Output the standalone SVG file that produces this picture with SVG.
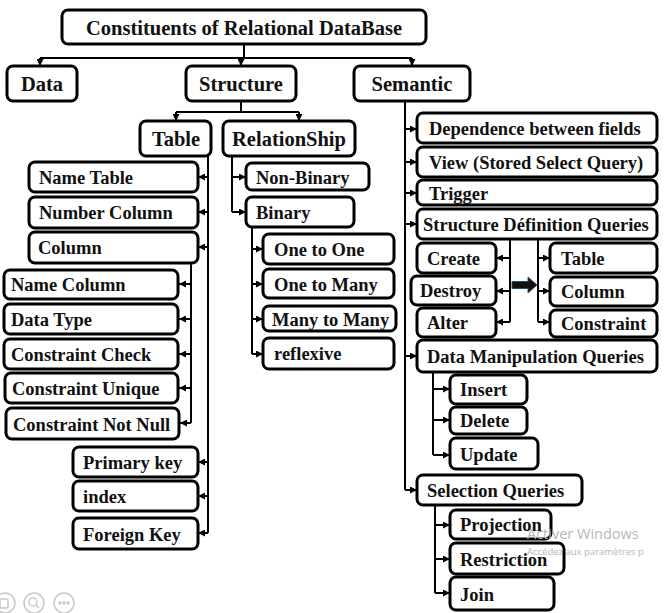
<svg xmlns="http://www.w3.org/2000/svg" width="665" height="613" viewBox="0 0 665 613">
  <style>
    .box { fill: #ffffff; stroke: #000000; stroke-width: 3; }
    .lbl { font-family: "Liberation Serif", "Times New Roman", serif; font-weight: bold; font-size: 18.5px; fill: #111111; }
    .ttl { font-size: 20.5px; }
    .big { font-size: 20.5px; }
    .wire { fill: none; stroke: #000000; stroke-width: 2; }
    .wm { font-family: "Segoe UI", "Open Sans", "Liberation Sans", sans-serif; fill: #b8b8b8; }
    .ico { fill: none; stroke: #c8c8c8; stroke-width: 1.5; }
  </style>
  <defs>
    <marker id="tip" viewBox="0 0 8 8" refX="8" refY="4" markerWidth="7" markerHeight="7" markerUnits="userSpaceOnUse" orient="auto">
      <path d="M0,0 L8,4 L0,8 Z" fill="#000000"/>
    </marker>
  </defs>

  <rect width="665" height="613" fill="#ffffff"/>

  <!-- connectors -->
  <g id="connectors" class="wire">
    <!-- root to level 1 -->
    <path d="M244,44 V58 M40,58 H412"/>
    <path d="M40,58 V66" marker-end="url(#tip)"/>
    <path d="M241,58 V66" marker-end="url(#tip)"/>
    <path d="M412,58 V66" marker-end="url(#tip)"/>
    <!-- structure -->
    <path d="M241,101 V112 M176,112 H299"/>
    <path d="M176,112 V121" marker-end="url(#tip)"/>
    <path d="M299,112 V121" marker-end="url(#tip)"/>
    <!-- table -->
    <path d="M208,156 V533"/>
    <path d="M208,177 H198" marker-end="url(#tip)"/>
    <path d="M208,212 H198" marker-end="url(#tip)"/>
    <path d="M208,247 H198" marker-end="url(#tip)"/>
    <path d="M208,462 H198" marker-end="url(#tip)"/>
    <path d="M208,496 H198" marker-end="url(#tip)"/>
    <path d="M208,533 H198" marker-end="url(#tip)"/>
    <!-- column -->
    <path d="M191,263 V423"/>
    <path d="M191,284 H179" marker-end="url(#tip)"/>
    <path d="M191,319 H179" marker-end="url(#tip)"/>
    <path d="M191,354 H179" marker-end="url(#tip)"/>
    <path d="M191,388 H179" marker-end="url(#tip)"/>
    <path d="M191,423 H180" marker-end="url(#tip)"/>
    <!-- relationship -->
    <path d="M232,156 V212"/>
    <path d="M232,177 H246" marker-end="url(#tip)"/>
    <path d="M232,212 H246" marker-end="url(#tip)"/>
    <!-- binary -->
    <path d="M252,227 V354"/>
    <path d="M252,249 H263" marker-end="url(#tip)"/>
    <path d="M252,284 H263" marker-end="url(#tip)"/>
    <path d="M252,319 H263" marker-end="url(#tip)"/>
    <path d="M252,354 H263" marker-end="url(#tip)"/>
    <!-- semantic -->
    <path d="M405,101 V490"/>
    <path d="M405,129 H417" marker-end="url(#tip)"/>
    <path d="M405,162 H417" marker-end="url(#tip)"/>
    <path d="M405,193 H417" marker-end="url(#tip)"/>
    <path d="M405,224 H417" marker-end="url(#tip)"/>
    <path d="M405,356 H417" marker-end="url(#tip)"/>
    <path d="M405,490 H417" marker-end="url(#tip)"/>
    <!-- structure definition queries -->
    <path d="M510,239 V322"/>
    <path d="M510,258 H496" marker-end="url(#tip)"/>
    <path d="M510,291 H496" marker-end="url(#tip)"/>
    <path d="M510,322 H496" marker-end="url(#tip)"/>
    <path d="M538,239 V322"/>
    <path d="M538,258 H550" marker-end="url(#tip)"/>
    <path d="M538,291 H550" marker-end="url(#tip)"/>
    <path d="M538,322 H550" marker-end="url(#tip)"/>
    <path d="M512,281.5 H528 V277 L537,285 L528,293 V288.5 H512 Z" fill="#111111" stroke="#2a4a7a" stroke-width="1"/>
    <!-- data manipulation queries -->
    <path d="M433,372 V455"/>
    <path d="M433,389 H450" marker-end="url(#tip)"/>
    <path d="M433,420 H450" marker-end="url(#tip)"/>
    <path d="M433,455 H450" marker-end="url(#tip)"/>
    <!-- selection queries -->
    <path d="M435,505 V593"/>
    <path d="M435,525 H450" marker-end="url(#tip)"/>
    <path d="M435,559 H450" marker-end="url(#tip)"/>
    <path d="M435,593 H450" marker-end="url(#tip)"/>
  </g>

  <!-- nodes -->
  <g id="root"><rect class="box" x="62" y="10" width="364" height="34" rx="6"/><text class="lbl ttl" x="244" y="34.5" text-anchor="middle">Constituents of Relational DataBase</text></g>
  <g id="data"><rect class="box" x="7" y="66" width="70" height="35" rx="6"/><text class="lbl big" x="42" y="91" text-anchor="middle">Data</text></g>
  <g id="structure"><rect class="box" x="186" y="66" width="110" height="35" rx="6"/><text class="lbl big" x="241" y="91" text-anchor="middle">Structure</text></g>
  <g id="semantic"><rect class="box" x="354" y="66" width="116" height="35" rx="6"/><text class="lbl big" x="412" y="91" text-anchor="middle">Semantic</text></g>

  <g id="table"><rect class="box" x="140" y="121" width="71" height="35" rx="6"/><text class="lbl big" x="176" y="146" text-anchor="middle">Table</text></g>
  <g id="relationship"><rect class="box" x="223" y="121" width="132" height="35" rx="6"/><text class="lbl big" x="289" y="146" text-anchor="middle">RelationShip</text></g>

  <g id="name-table"><rect class="box" x="29" y="162" width="169" height="30" rx="6"/><text class="lbl" x="39" y="184">Name Table</text></g>
  <g id="number-column"><rect class="box" x="29" y="197" width="169" height="31" rx="6"/><text class="lbl" x="39" y="219">Number Column</text></g>
  <g id="column"><rect class="box" x="29" y="232" width="169" height="31" rx="6"/><text class="lbl" x="38" y="254">Column</text></g>
  <g id="name-column"><rect class="box" x="4" y="270" width="174" height="29" rx="6"/><text class="lbl" x="11" y="291">Name Column</text></g>
  <g id="data-type"><rect class="box" x="4" y="304" width="174" height="30" rx="6"/><text class="lbl" x="11" y="326">Data Type</text></g>
  <g id="constraint-check"><rect class="box" x="4" y="339" width="174" height="30" rx="6"/><text class="lbl" x="11" y="361">Constraint Check</text></g>
  <g id="constraint-unique"><rect class="box" x="5" y="373" width="173" height="30" rx="6"/><text class="lbl" x="12" y="395">Constraint Unique</text></g>
  <g id="constraint-not-null"><rect class="box" x="6" y="408" width="173" height="31" rx="6"/><text class="lbl" x="13" y="431">Constraint Not Null</text></g>
  <g id="primary-key"><rect class="box" x="73" y="447" width="125" height="30" rx="6"/><text class="lbl" x="83" y="469">Primary key</text></g>
  <g id="index"><rect class="box" x="73" y="481" width="125" height="30" rx="6"/><text class="lbl" x="83" y="503">index</text></g>
  <g id="foreign-key"><rect class="box" x="73" y="518" width="125" height="31" rx="6"/><text class="lbl" x="83" y="541">Foreign Key</text></g>

  <g id="non-binary"><rect class="box" x="246" y="163" width="123" height="27" rx="6"/><text class="lbl" x="256" y="184">Non-Binary</text></g>
  <g id="binary"><rect class="box" x="246" y="197" width="108" height="30" rx="6"/><text class="lbl" x="256" y="219">Binary</text></g>
  <g id="one-to-one"><rect class="box" x="263" y="234" width="131" height="30" rx="6"/><text class="lbl" x="274" y="256">One to One</text></g>
  <g id="one-to-many"><rect class="box" x="263" y="269" width="131" height="29" rx="6"/><text class="lbl" x="274" y="291">One to Many</text></g>
  <g id="many-to-many"><rect class="box" x="263" y="306" width="133" height="25" rx="6"/><text class="lbl" x="272" y="326">Many to Many</text></g>
  <g id="reflexive"><rect class="box" x="263" y="338" width="131" height="31" rx="6"/><text class="lbl" x="274" y="360">reflexive</text></g>

  <g id="dependence"><rect class="box" x="417" y="113" width="240" height="30" rx="6"/><text class="lbl" x="429" y="135">Dependence between fields</text></g>
  <g id="view"><rect class="box" x="417" y="147" width="240" height="30" rx="6"/><text class="lbl" x="429" y="169">View (Stored Select Query)</text></g>
  <g id="trigger"><rect class="box" x="417" y="180" width="240" height="25" rx="6"/><text class="lbl" x="429" y="200">Trigger</text></g>
  <g id="structure-definition"><rect class="box" x="417" y="209" width="240" height="30" rx="6"/><text class="lbl" x="423" y="231">Structure Définition Queries</text></g>
  <g id="create"><rect class="box" x="417" y="243" width="79" height="30" rx="6"/><text class="lbl" x="427" y="265">Create</text></g>
  <g id="destroy"><rect class="box" x="411" y="276" width="85" height="29" rx="6"/><text class="lbl" x="420" y="297">Destroy</text></g>
  <g id="alter"><rect class="box" x="417" y="308" width="79" height="29" rx="6"/><text class="lbl" x="427" y="329">Alter</text></g>
  <g id="sdq-table"><rect class="box" x="550" y="243" width="107" height="30" rx="6"/><text class="lbl" x="561" y="265">Table</text></g>
  <g id="sdq-column"><rect class="box" x="550" y="277" width="107" height="29" rx="6"/><text class="lbl" x="561" y="298">Column</text></g>
  <g id="sdq-constraint"><rect class="box" x="550" y="310" width="107" height="27" rx="6"/><text class="lbl" x="561" y="330">Constraint</text></g>
  <g id="data-manipulation"><rect class="box" x="417" y="340" width="240" height="32" rx="6"/><text class="lbl" x="427" y="363">Data Manipulation Queries</text></g>
  <g id="insert"><rect class="box" x="450" y="375" width="77" height="29" rx="6"/><text class="lbl" x="460" y="396">Insert</text></g>
  <g id="delete"><rect class="box" x="450" y="407" width="77" height="27" rx="6"/><text class="lbl" x="460" y="427">Delete</text></g>
  <g id="update"><rect class="box" x="450" y="438" width="88" height="31" rx="6"/><text class="lbl" x="460" y="461">Update</text></g>
  <g id="selection"><rect class="box" x="417" y="475" width="165" height="30" rx="6"/><text class="lbl" x="427" y="497">Selection Queries</text></g>
  <g id="projection"><rect class="box" x="450" y="510" width="101" height="29" rx="6"/><text class="lbl" x="460" y="531">Projection</text></g>
  <g id="restriction"><rect class="box" x="450" y="543" width="114" height="31" rx="6"/><text class="lbl" x="460" y="566">Restriction</text></g>
  <g id="join"><rect class="box" x="450" y="577" width="104" height="33" rx="6"/><text class="lbl" x="460" y="601">Join</text></g>

  <!-- system overlay text and toolbar icons -->
  <g id="overlay">
    <text class="wm" x="527" y="539" font-size="14.5">Activer Windows</text>
    <text class="wm" x="527" y="555" font-size="9.5">Accédez aux paramètres p</text>
    <circle class="ico" cx="5" cy="603" r="10"/>
    <rect class="ico" x="0" y="599" width="8" height="9" rx="1"/>
    <circle class="ico" cx="34" cy="603" r="10"/>
    <circle class="ico" cx="33" cy="602" r="4"/>
    <path class="ico" d="M36,605 L39,608"/>
    <circle class="ico" cx="64" cy="603" r="10"/>
    <circle class="ico" cx="60" cy="603" r="1"/>
    <circle class="ico" cx="64" cy="603" r="1"/>
    <circle class="ico" cx="68" cy="603" r="1"/>
  </g>
</svg>
